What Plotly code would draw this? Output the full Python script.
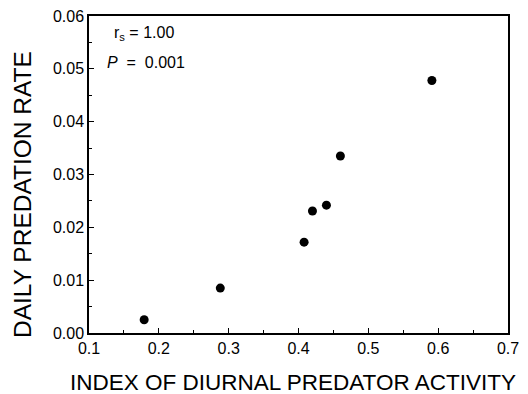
import plotly.graph_objects as go

activity = [0.179, 0.288, 0.408, 0.420, 0.440, 0.460, 0.591]
predation = [0.0025, 0.0085, 0.0172, 0.0231, 0.0242, 0.0335, 0.0478]

x_ticks = [0.1, 0.2, 0.3, 0.4, 0.5, 0.6, 0.7]
x_labels = ["0.1", "0.2", "0.3", "0.4", "0.5", "0.6", "0.7"]
y_ticks = [0.0, 0.01, 0.02, 0.03, 0.04, 0.05, 0.06]
y_labels = ["0.00", "0.01", "0.02", "0.03", "0.04", "0.05", "0.06"]

x_title = "INDEX OF DIURNAL PREDATOR ACTIVITY"
y_title = "DAILY PREDATION RATE"

font = "Liberation Sans, Arial, Helvetica, sans-serif"

fig = go.Figure()
fig.add_trace(go.Scatter(
    x=activity, y=predation, mode="markers",
    marker=dict(color="black", size=9, line=dict(width=0)),
    showlegend=False,
))

axis_common = dict(
    showline=True, linecolor="black", linewidth=1.5, mirror=True,
    ticks="inside", ticklen=5, tickwidth=1, tickcolor="black",
    showgrid=False, zeroline=False,
    tickfont=dict(family=font, size=16, color="black"),
    automargin=False,
)

fig.update_xaxes(
    range=[0.1, 0.7], tickvals=x_ticks, ticktext=x_labels,
    minor=dict(dtick=0.05, tick0=0.1, ticks="inside", ticklen=3, tickcolor="black"),
    **axis_common,
)
fig.update_yaxes(
    range=[0.0, 0.06], tickvals=y_ticks, ticktext=y_labels,
    minor=dict(dtick=0.005, tick0=0, ticks="inside", ticklen=3, tickcolor="black"),
    **axis_common,
)

# axis titles as annotations for exact placement
fig.add_annotation(xref="paper", yref="paper", x=(293 - 89) / 419, y=-(383 - 333) / 317,
                   xanchor="center", yanchor="middle", text=x_title, showarrow=False,
                   font=dict(family=font, size=22.5, color="black"))
fig.add_annotation(xref="paper", yref="paper", x=-(89 - 22) / 419, y=(333 - 195) / 317,
                   xanchor="center", yanchor="middle", text=y_title, showarrow=False,
                   textangle=-90, font=dict(family=font, size=24.5, color="black"))

fig.add_annotation(xref="paper", yref="paper", x=0.055, y=0.945, xanchor="left", yanchor="middle",
                   text="r<sub>s</sub> = 1.00", showarrow=False,
                   font=dict(family=font, size=16, color="black"))
fig.add_annotation(xref="paper", yref="paper", x=0.038, y=0.852, xanchor="left", yanchor="middle",
                   text="<i>P</i>  =  0.001", showarrow=False,
                   font=dict(family=font, size=16, color="black"))

fig.update_layout(
    width=528, height=394,
    margin=dict(l=89, r=20, t=16, b=61),
    plot_bgcolor="white", paper_bgcolor="white",
    font=dict(family=font, color="black"),
)

fig.write_html("out.html", config={"displayModeBar": False},
               post_script="document.body.style.margin='0';")
